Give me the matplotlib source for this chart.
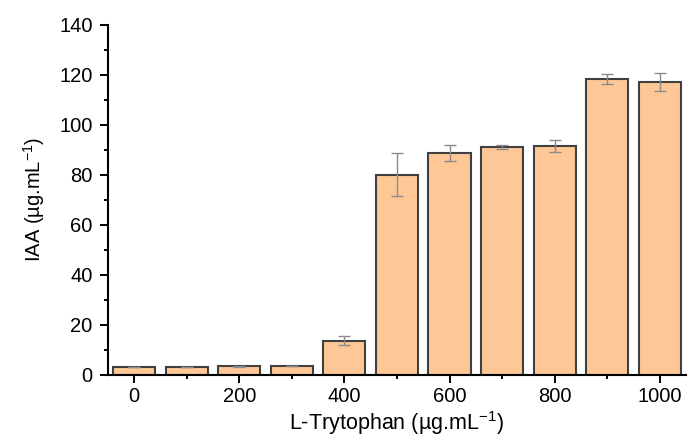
import matplotlib.pyplot as plt

plt.rcParams['font.family'] = ['Liberation Sans', 'DejaVu Sans']
plt.rcParams['mathtext.fontset'] = 'custom'
plt.rcParams['mathtext.rm'] = 'Liberation Sans'
plt.rcParams['mathtext.it'] = 'Liberation Sans'
plt.rcParams['mathtext.default'] = 'regular'

conc = [0, 100, 200, 300, 400, 500, 600, 700, 800, 900, 1000]
iaa = [3.1, 3.1, 3.3, 3.5, 13.5, 80.0, 88.5, 91.0, 91.6, 118.3, 117.2]
err = [0.0, 0.0, 0.3, 0.0, 1.8, 8.5, 3.2, 0.8, 2.4, 2.0, 3.6]

fig = plt.figure(figsize=(6.88, 4.36), dpi=100)
ax = fig.add_axes([0.157, 0.141, 0.84, 0.802])

ax.bar(conc, iaa, width=80, color='#fec796', edgecolor='#404040', linewidth=1.5)
ax.errorbar(conc, iaa, yerr=err, fmt='none', ecolor='#8a8a8a', elinewidth=1, capsize=4, capthick=1)

ax.set_xlim(-50, 1050)
ax.set_ylim(0, 140)
ax.set_xticks([0, 200, 400, 600, 800, 1000])
ax.set_xticks([100, 300, 500, 700, 900], minor=True)
ax.set_yticks(range(0, 141, 20))
ax.set_yticks(range(10, 140, 20), minor=True)
ax.tick_params(axis='both', which='major', direction='out', length=6, width=1.4, labelsize=14.5)
ax.tick_params(axis='both', which='minor', direction='out', length=3, width=1.4)
ax.tick_params(axis='y', which='major', pad=5)
ax.tick_params(axis='x', which='major', pad=3)
ax.spines['top'].set_visible(False)
ax.spines['right'].set_visible(False)
ax.spines['left'].set_linewidth(1.5)
ax.spines['bottom'].set_linewidth(1.5)

ax.set_xlabel('L-Trytophan (µg.mL$^{-1}$)', fontsize=15.5)
ax.xaxis.set_label_coords(0.5, -0.098)
ax.set_ylabel('IAA (µg.mL$^{-1}$)', fontsize=14.5, labelpad=9)

fig.savefig('out.png', dpi=100)
